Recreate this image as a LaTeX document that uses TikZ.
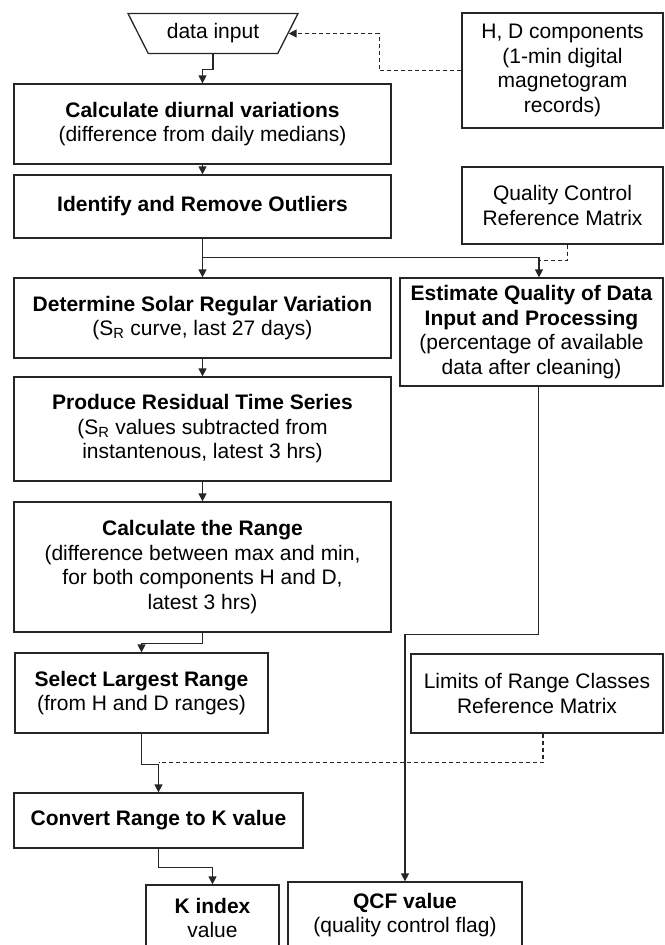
\documentclass[tikz,border=0pt]{standalone}
\usepackage{fontspec}
\setmainfont{Liberation Sans}
\usetikzlibrary{shapes.geometric,arrows.meta,positioning}
\tikzset
{
    procbox/.style 2 args = {rectangle, draw=black!85, line width=1.3pt, align=center, inner sep=0pt, minimum width=#1, minimum height=#2},
    inputbox/.style = {trapezium, trapezium stretches body, shape border rotate=180, trapezium angle=44, draw=black!85, line width=1.3pt, minimum width=170pt, minimum height=40pt, inner sep=0pt},
    arrow/.style = {draw=black!85, line width=1.3pt, -{Triangle[length=8pt,width=8pt]}},
    dashlink/.style = {draw=black!85, line width=1.3pt, dash pattern=on 4pt off 3pt},
    dasharrow/.style = {dashlink, -{Triangle[length=8pt,width=8pt]}}
}

\begin{document}
\begin{tikzpicture}[x=1pt, y=-1pt, font=\fontsize{21}{24.5}\selectfont]
\useasboundingbox (0,0) rectangle (664,945);
\clip (0,0) rectangle (664,945);
% main column
\node(din) [inputbox] at (213, 33.5) {data input};
\node(diur) [procbox={377pt}{80pt}] at (202.5, 124) {\textbf{Calculate diurnal variations}\\(difference from daily medians)};
\node(outl) [procbox={377pt}{63pt}] at (202.5, 206.5) {\textbf{Identify and Remove Outliers}};
\node(solar) [procbox={377pt}{80pt}] at (202.5, 318) {\textbf{Determine Solar Regular Variation}\\(S\textsubscript{R} curve, last 27 days)};
\node(resid) [procbox={377pt}{104pt}] at (202.5, 429) {\textbf{Produce Residual Time Series}\\(S\textsubscript{R} values subtracted from\\instantenous, latest 3 hrs)};
\node(range) [procbox={377pt}{130pt}] at (202.5, 567) {\textbf{Calculate the Range}\\(difference between max and min,\\for both components H and D,\\latest 3 hrs)};
\node(largest) [procbox={253pt}{80pt}] at (141.5, 693) {\textbf{Select Largest Range}\\(from H and D ranges)};
\node(conv) [procbox={289pt}{55pt}] at (158.5, 820.5) {\textbf{Convert Range to K value}};
\node(kidx) [procbox={133pt}{66pt}] at (212.5, 918) {\textbf{K index}\\value};
\node(qcf) [procbox={234pt}{66pt}] at (405, 915) {\textbf{QCF value}\\(quality control flag)};
% right column
\node(hd) [procbox={201pt}{115pt}] at (562.5, 70.5) {H, D components\\(1-min digital\\magnetogram\\records)};
\node(qcref) [procbox={201pt}{77pt}] at (562.5, 205.5) {Quality Control\\Reference Matrix};
\node(est) [procbox={263pt}{108pt}] at (531.5, 332) {\textbf{Estimate Quality of Data}\\\textbf{Input and Processing}\\(percentage of available\\data after cleaning)};
\node(limits) [procbox={252pt}{79pt}] at (537, 693.5) {Limits of Range Classes\\Reference Matrix};
\coordinate(qjoin) at ([xshift=7.5pt,yshift=17pt]est.north);
\coordinate(ljoin) at ([yshift=30pt]conv.north);
\draw[arrow] (din.south) -- ++(0,15) -| (diur.north);
\draw[arrow] (diur) -- (outl);
\draw[arrow] (outl) -- (solar);
\draw[arrow] (outl.south) -- ++(0,19) -| ([xshift=7.5pt]est.north);
\draw[arrow] (solar) -- (resid);
\draw[arrow] (resid) -- (range);
\draw[arrow] (range.south) -- ++(0,11) -| (largest.north);
\draw[arrow] (largest.south) -- ++(0,31) -| (conv.north);
\draw[arrow] (conv.south) -- ++(0,19) -| (kidx.north);
\draw[arrow] ([xshift=7pt]est.south) -- ++(0,248) -| (qcf.north);
\draw[dasharrow] (hd.west) -- ++(-82,0) |- (din.east);
\draw[dashlink] ([xshift=5pt]qcref.south) |- (qjoin);
\draw[dashlink] ([xshift=6pt]limits.south) |- (ljoin);
\end{tikzpicture}
\end{document}
